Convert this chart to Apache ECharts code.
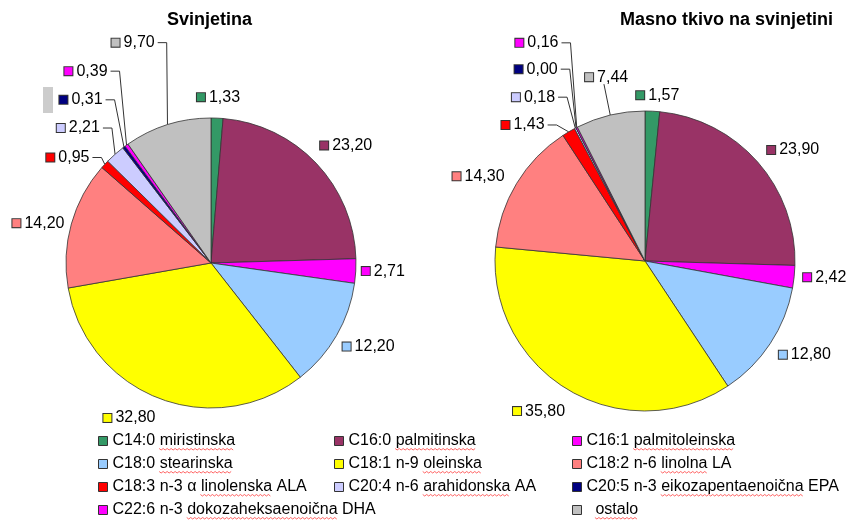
<!DOCTYPE html>
<html>
<head>
<meta charset="utf-8">
<script src="https://cdn.jsdelivr.net/npm/echarts@6/dist/echarts.min.js"></script>
<style>
html,body{margin:0;padding:0;background:#fff;}
#c{width:850px;height:521px;}
</style>
</head>
<body>
<div id="c"></div>
<script>
// ---- data ----
const categories = [
  'C14:0 miristinska',
  'C16:0 palmitinska',
  'C16:1 palmitoleinska',
  'C18:0 stearinska',
  'C18:1 n-9 oleinska',
  'C18:2 n-6 linolna LA',
  'C18:3 n-3 α linolenska ALA',
  'C20:4 n-6 arahidonska AA',
  'C20:5 n-3 eikozapentaenoična EPA',
  'C22:6 n-3 dokozaheksaenoična DHA',
  'ostalo'
];
const svinjetina = [1.33, 23.20, 2.71, 12.20, 32.80, 14.20, 0.95, 2.21, 0.31, 0.39, 9.70];
const masnoTkivo = [1.57, 23.90, 2.42, 12.80, 35.80, 14.30, 1.43, 0.18, 0.00, 0.16, 7.44];
const titles = ['Svinjetina', 'Masno tkivo na svinjetini'];
// words marked by the spell checker (red wavy underline) in the legend
const spellWords = ['miristinska', 'palmitinska', 'palmitoleinska', 'stearinska', 'oleinska',
  'linolna', 'linolenska', 'arahidonska', 'eikozapentaenoična', 'dokozaheksaenoična', 'ostalo'];

// ---- styles ----
const colors = ['#339966', '#993366', '#ff00ff', '#99ccff', '#ffff00', '#ff8080',
                '#ff0000', '#ccccff', '#000080', '#ff00ff', '#c0c0c0'];
// label placement: [labelLine length, length2, leader style]
const labelCfg = [
  [[21,-26,''],[26,-20,''],[1,0,''],[22,-18,''],[21,-9,''],[3,-1,''],
   [10,3,'side'],[35,-13,'side'],[59,-19,'side'],[91,-39,'side'],[86,-18,'side']],
  [[16,-22,''],[18,-9,''],[4,0,''],[20,-13,''],[25,-15,''],[14,-5,''],
   [8,15,'side'],[35,-1,'side'],[66,-17,'side'],[95,-30,'side'],[39,-32,'below']]
];
const legendCols = [
  [0, 3, 6, 9],
  [1, 4, 7],
  [2, 5, 8, 10]
];
const legendLeft = [98, 334, 572];
const legendTop = 433;
const legendPitch = 23;

const FONT = '"Liberation Sans", Arial, sans-serif';

const rich = { t: { fontSize: 16, fontFamily: FONT, color: '#000', padding: [0,0,0,4], lineHeight: 18 } };
colors.forEach((c, i) => {
  rich['s' + i] = { width: 8, height: 8, backgroundColor: c, borderColor: '#333', borderWidth: 1 };
});

function buildData(values, si) {
  return values.map((v, i) => ({
    name: categories[i],
    value: v,
    itemStyle: { color: colors[i] },
    labelLine: {
      show: labelCfg[si][i][2] !== '',
      length: labelCfg[si][i][0],
      length2: labelCfg[si][i][1]
    }
  }));
}

function fmt(p) {
  return '{s' + p.dataIndex + '|}{t|' + p.value.toFixed(2).replace('.', ',') + '}';
}

function layoutFn(params) {
  const cfg = labelCfg[params.seriesIndex][params.dataIndex];
  const pts = params.labelLinePoints;
  if (!pts || !cfg || !cfg[2]) return {};
  const r = params.labelRect;
  const e = pts[0];
  if (cfg[2] === 'side') {
    const cy = r.y + r.height / 2;
    const xr = r.x + r.width;
    return { labelLinePoints: [[e[0], e[1]], [xr + 12, cy], [xr + 3, cy]] };
  }
  return { labelLinePoints: [[e[0], e[1]], [r.x + r.width * 0.45, r.y + r.height - 1]] };
}

const legendFmt = n => (n === 'ostalo' ? '  ostalo' : n);

// spell-check squiggles under legend words
const measureCtx = document.createElement('canvas').getContext('2d');
measureCtx.font = '16px "Liberation Sans", Arial, sans-serif';
const squiggles = [];
legendCols.forEach((col, k) => {
  col.forEach((ci, r) => {
    const text = legendFmt(categories[ci]);
    const word = spellWords[ci];
    const pos = text.indexOf(word);
    if (pos < 0) return;
    const x0 = legendLeft[k] + 9 + 5 + measureCtx.measureText(text.slice(0, pos)).width;
    const w = measureCtx.measureText(word).width;
    const y = legendTop + 8 + r * legendPitch + 8;
    const pts = [];
    for (let x = 0, j = 0; x <= w; x += 2, j++) pts.push([x0 + x, y + (j % 2 ? 1 : -0.5)]);
    squiggles.push({ type: 'polyline', silent: true, shape: { points: pts },
      style: { stroke: '#ff3030', lineWidth: 1, fill: null, opacity: 0.75 } });
  });
});

const pieCommon = {
  type: 'pie',
  startAngle: 90,
  clockwise: true,
  avoidLabelOverlap: false,
  animation: false,
  emphasis: { disabled: true },
  itemStyle: { borderColor: '#333', borderWidth: 0.8 },
  label: { show: true, position: 'outside', formatter: fmt, rich: rich, distanceToLabelLine: 5 },
  labelLine: { lineStyle: { color: '#333', width: 1 }, smooth: false },
  labelLayout: layoutFn
};

const option = {
  backgroundColor: '#fff',
  animation: false,
  title: [
    { text: titles[0], left: 167, top: 11, padding: 0,
      textStyle: { fontFamily: FONT, fontSize: 18, fontWeight: 'bold', color: '#000' } },
    { text: titles[1], left: 620, top: 11, padding: 0,
      textStyle: { fontFamily: FONT, fontSize: 18, fontWeight: 'bold', color: '#000' } }
  ],
  legend: legendCols.map((col, k) => ({
    orient: 'vertical',
    left: legendLeft[k],
    top: legendTop,
    padding: 0,
    itemWidth: 9,
    itemHeight: 9,
    itemGap: legendPitch - 16,
    icon: 'rect',
    selectedMode: false,
    itemStyle: { borderColor: '#333', borderWidth: 1 },
    textStyle: { fontFamily: FONT, fontSize: 16, color: '#000', lineHeight: 16 },
    formatter: legendFmt,
    data: col.map(i => categories[i])
  })),
  graphic: [
    { type: 'rect', shape: { x: 43, y: 87, width: 10, height: 26 }, style: { fill: '#cccccc' } }
  ].concat(squiggles),
  series: [
    Object.assign({}, pieCommon, { name: titles[0], center: [211, 263], radius: 145, data: buildData(svinjetina, 0) }),
    Object.assign({}, pieCommon, { name: titles[1], center: [645, 261], radius: 150, data: buildData(masnoTkivo, 1) })
  ]
};

const chart = echarts.init(document.getElementById('c'), null, { renderer: 'canvas' });
chart.setOption(option);
</script>
</body>
</html>
